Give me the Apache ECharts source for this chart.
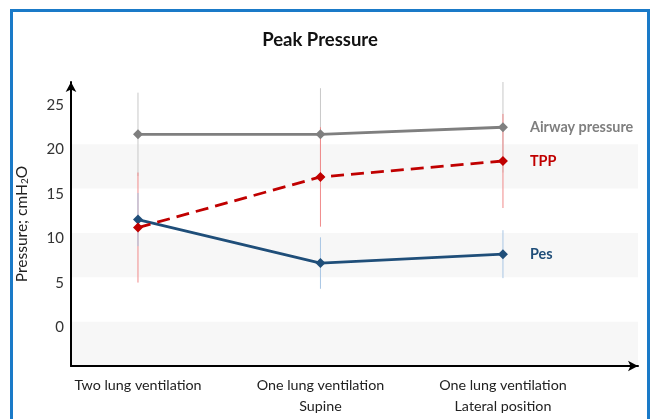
<!DOCTYPE html>
<html>
<head>
<meta charset="utf-8">
<script src="https://cdn.jsdelivr.net/npm/echarts@6/dist/echarts.min.js"></script>
<style>html,body{margin:0;padding:0;background:#fff}#c{width:656px;height:419px}</style>
</head>
<body>
<div id="c"></div>
<script>
var categories = ['Two lung ventilation', 'One lung ventilation\nSupine', 'One lung ventilation\nLateral position'];
var airway = [21.1, 21.1, 21.9];
var airwayErr = [4.7, 5.2, 5.1];
var tpp = [10.6, 16.3, 18.1];
var tppErr = [6.2, 5.6, 5.3];
var pes = [11.5, 6.6, 7.6];
var pesErr = [3.0, 2.9, 2.7];
var yTicks = [0, 5, 10, 15, 20, 25];
var bands = [[-5, 0], [5, 10], [15, 20]];
var pLabel = {text: 'P<0.001', x: 0.39, y: 14.7};

var FONT = 'Lato';
var cGray = '#7f7f7f', cRed = '#c00000', cBlue = '#1f4e79';

function pts(vals) { return vals.map(function (v, i) { return [i, v]; }); }
function errData(vals, errs) { return vals.map(function (v, i) { return [i, v - errs[i], v + errs[i]]; }); }
function errSeries(vals, errs, color, z) {
  return {
    type: 'custom', z: z, silent: true,
    data: errData(vals, errs),
    renderItem: function (params, api) {
      var a = api.coord([api.value(0), api.value(1)]);
      var b = api.coord([api.value(0), api.value(2)]);
      return {type: 'line', shape: {x1: a[0], y1: a[1], x2: b[0], y2: b[1]}, style: {stroke: color, lineWidth: 1}};
    }
  };
}
function lineSeries(name, vals, color, dashed, z) {
  return {
    name: name, type: 'line', z: z, data: pts(vals),
    symbol: 'diamond', symbolSize: 10,
    itemStyle: {color: color},
    lineStyle: {color: color, width: 2.8, type: dashed ? [13, 7] : 'solid'},
    endLabel: {show: true, formatter: '{a}', distance: 27, color: color, fontFamily: FONT, fontWeight: 'bold', fontSize: 14.4}
  };
}

var chart = echarts.init(document.getElementById('c'));
chart.setOption({
  animation: false,
  backgroundColor: '#fff',
  title: {text: 'Peak Pressure', left: 315, top: 26, textAlign: 'center',
    textStyle: {fontFamily: FONT, fontWeight: 'bold', fontSize: 18.5, color: '#111'}},
  graphic: [{type: 'rect', shape: {x: 11.5, y: 10.5, width: 637, height: 440}, style: {fill: 'none', stroke: '#1a7ac8', lineWidth: 3}, z: 100}],
  grid: {left: 71, right: 18, top: 82, bottom: 53},
  xAxis: {
    type: 'value', min: -0.367, max: 2.74, z: 20,
    splitLine: {show: false}, axisTick: {show: false},
    axisLine: {show: true, onZero: false, symbol: ['none', 'arrow'], symbolSize: [8, 10], lineStyle: {color: '#000', width: 2}},
    axisLabel: {customValues: [0, 1, 2], formatter: function (v) { return categories[Math.round(v)]; },
      fontFamily: FONT, fontSize: 14.3, color: '#222', lineHeight: 21, margin: 9}
  },
  yAxis: {
    type: 'value', min: -5, max: 27, interval: 5, z: 20,
    name: 'Pressure; cmH{sub|2}O', nameLocation: 'middle', nameGap: 41, nameRotate: 90,
    nameTextStyle: {fontFamily: FONT, fontSize: 15.5, color: '#222',
      rich: {sub: {fontSize: 10, fontFamily: FONT, color: '#222', verticalAlign: 'bottom', padding: [7, 0, 0, 0]}}},
    splitLine: {show: false}, axisTick: {show: false},
    axisLine: {show: true, onZero: false, symbol: ['none', 'arrow'], symbolSize: [8, 10], lineStyle: {color: '#000', width: 2}},
    axisLabel: {customValues: yTicks, fontFamily: FONT, fontSize: 15, color: '#333', margin: 7, verticalAlign: 'top', lineHeight: 11}
  },
  series: [
    {type: 'line', data: [], z: 0, silent: true,
      markArea: {silent: true, itemStyle: {color: '#f7f7f7'},
        data: bands.map(function (b) { return [{yAxis: b[0]}, {yAxis: b[1]}]; })}},
    errSeries(airway, airwayErr, '#c8c8c8', 1),
    errSeries(tpp, tppErr, '#f08a8a', 2),
    errSeries(pes, pesErr, '#a9c6e4', 3),
    lineSeries('Airway pressure', airway, cGray, false, 5),
    lineSeries('Pes', pes, cBlue, false, 6),
    (function () {
      var s = lineSeries('TPP', tpp, cRed, true, 7);
      s.markPoint = {symbol: 'none', silent: true, data: [{coord: [pLabel.x, pLabel.y], value: pLabel.text,
        label: {show: true, formatter: pLabel.text, color: cRed, fontFamily: FONT, fontWeight: 'bold', fontSize: 15, position: 'inside'}}]};
      return s;
    })()
  ]
});
</script>
</body>
</html>
